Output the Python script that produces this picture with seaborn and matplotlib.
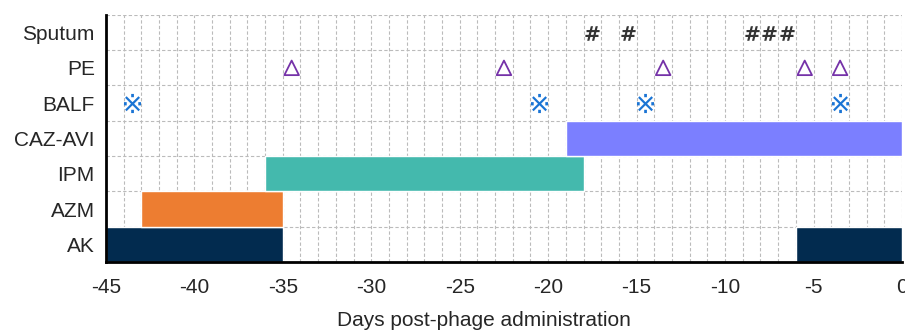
import numpy as np
import pandas as pd
import seaborn as sns
import matplotlib.pyplot as plt
from matplotlib.ticker import MultipleLocator

# Rows from bottom to top
rows = ['AK', 'AZM', 'IPM', 'CAZ-AVI', 'BALF', 'PE', 'Sputum']

# Treatment periods (start day, end day)
ak_periods = [(-45, -35), (-6, 0)]
azm_periods = [(-43, -35)]
ipm_periods = [(-36, -18)]
cazavi_periods = [(-19, 0)]

# Sampling events (day)
balf_days = [-43.5, -20.5, -14.5, -3.5]
pe_days = [-34.5, -22.5, -13.5, -5.5, -3.5]
sputum_days = [-17.5, -15.5, -8.5, -7.5, -6.5]

bar_colors = {'AK': '#022b4f', 'AZM': '#ed7d31', 'IPM': '#44b9ad', 'CAZ-AVI': '#7b7fff'}

sns.set_style('white')
plt.rcParams['font.family'] = ['Liberation Sans', 'DejaVu Sans']

fig = plt.figure(figsize=(9.05, 3.31), dpi=100)
ax = fig.add_axes([0.117, 0.2085, 0.8797, 0.7465])

periods = {'AK': ak_periods, 'AZM': azm_periods, 'IPM': ipm_periods, 'CAZ-AVI': cazavi_periods}
for name, spans in periods.items():
    i = rows.index(name)
    ax.broken_barh([(s, e - s) for s, e in spans], (i, 1), facecolors=bar_colors[name], zorder=2)

balf = pd.DataFrame({'day': balf_days, 'row': rows.index('BALF') + 0.5})
pe = pd.DataFrame({'day': pe_days, 'row': rows.index('PE') + 0.5})
sputum = pd.DataFrame({'day': sputum_days, 'row': rows.index('Sputum') + 0.5})

sns.scatterplot(data=balf, x='day', y='row', marker='$\u203b$', s=190, color='#1a74d4',
                linewidth=0, ax=ax, zorder=3)
sns.scatterplot(data=pe, x='day', y='row', marker='^', s=110, facecolors='none',
                edgecolor='#7532a8', linewidth=1.3, ax=ax, zorder=3)
sns.scatterplot(data=sputum, x='day', y='row', marker='$\\mathbf{\\#}$', s=110, color='#333333',
                linewidth=0, ax=ax, zorder=3)

ax.set_xlim(-45, 0)
ax.set_ylim(0, 7)
ax.xaxis.set_major_locator(MultipleLocator(5))
ax.xaxis.set_minor_locator(MultipleLocator(1))
ax.set_xticklabels([f'{int(v)}' for v in ax.get_xticks()])
ax.set_yticks(np.arange(0, 8))
ax.set_yticklabels([])
ax.set_yticks(np.arange(len(rows)) + 0.5, minor=True)
ax.set_yticklabels(rows, minor=True)

grid_style = dict(linestyle=(0, (3, 2)), color='#bbbbbb', linewidth=0.8, zorder=0)
ax.grid(True, which='minor', axis='x', **grid_style)
ax.grid(True, which='major', axis='x', **grid_style)
ax.grid(True, which='major', axis='y', **grid_style)
ax.set_axisbelow(True)

for side in ['top', 'right']:
    ax.spines[side].set_visible(False)
for side in ['left', 'bottom']:
    ax.spines[side].set_linewidth(2)
    ax.spines[side].set_color('black')

ax.tick_params(axis='x', which='major', direction='inout', length=9, width=1.8, labelsize=15, pad=7)
ax.tick_params(axis='x', which='minor', direction='out', length=3, width=1.2)
ax.tick_params(axis='y', which='major', direction='in', length=5, width=1.8)
ax.tick_params(axis='y', which='minor', length=0, labelsize=15, pad=8)

ax.set_xlabel('Days post-phage administration', fontsize=15)
ax.xaxis.set_label_coords(0.475, -0.2)
ax.set_ylabel('')

fig.savefig('out.png', dpi=100)
